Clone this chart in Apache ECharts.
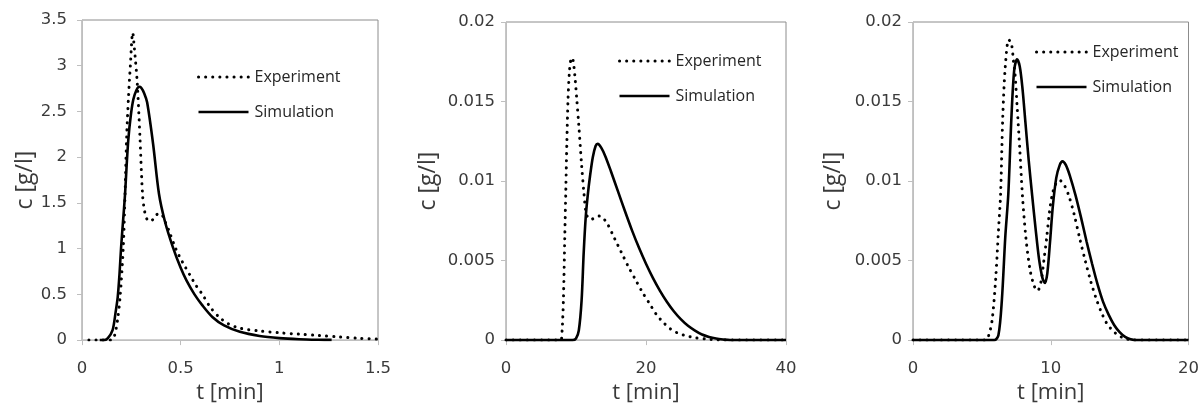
<!DOCTYPE html>
<html>
<head>
<meta charset="utf-8">
<script src="https://cdn.jsdelivr.net/npm/echarts@6/dist/echarts.min.js"></script>
<style>
  html, body { margin: 0; padding: 0; background: #ffffff; }
  #chart { width: 1202px; height: 409px; }
</style>
</head>
<body>
<div id="chart"></div>
<script>
// ---------- Panel 1: t in min, c in g/l ----------
const p1ExpT = [0.035, 0.1, 0.147, 0.165, 0.18, 0.193, 0.209, 0.218, 0.226, 0.235, 0.245, 0.257, 0.265, 0.28, 0.294, 0.307, 0.318, 0.33, 0.345, 0.365, 0.385, 0.40, 0.42, 0.44, 0.475, 0.51, 0.55, 0.58, 0.61, 0.65, 0.696, 0.74, 0.8, 0.9, 1.0, 1.1, 1.2, 1.3, 1.4, 1.5];
const p1ExpC = [0, 0, 0, 0.05, 0.22, 0.47, 1.01, 1.585, 2.2, 2.63, 3.0, 3.36, 3.2, 2.81, 2.2, 1.585, 1.4, 1.32, 1.3, 1.33, 1.38, 1.38, 1.3, 1.2, 1.0, 0.85, 0.7, 0.59, 0.5, 0.36, 0.25, 0.18, 0.13, 0.1, 0.08, 0.065, 0.05, 0.035, 0.02, 0.01];
const p1SimT = [0.09, 0.11, 0.13, 0.155, 0.17, 0.181, 0.19, 0.198, 0.208, 0.218, 0.226, 0.235, 0.247, 0.26, 0.275, 0.29, 0.3, 0.315, 0.33, 0.36, 0.39, 0.42, 0.46, 0.5, 0.53, 0.57, 0.61, 0.662, 0.72, 0.8, 0.9, 1.0, 1.1, 1.2, 1.265];
const p1SimC = [0, 0, 0.02, 0.11, 0.3, 0.47, 0.72, 1.01, 1.3, 1.59, 1.9, 2.2, 2.45, 2.63, 2.73, 2.77, 2.76, 2.7, 2.6, 2.15, 1.6, 1.3, 1.02, 0.79, 0.65, 0.5, 0.38, 0.25, 0.16, 0.09, 0.045, 0.022, 0.01, 0.004, 0.002];
const p1XTicks = [0, 0.5, 1, 1.5];
const p1YTicks = [0, 0.5, 1, 1.5, 2, 2.5, 3, 3.5];

// ---------- Panel 2 ----------
const p2ExpT = [0, 7.8, 8.0, 8.2, 8.4, 8.55, 8.7, 8.85, 9.05, 9.25, 9.47, 9.7, 9.9, 10.1, 10.4, 10.8, 11.14, 11.4, 11.7, 12.2, 12.7, 13.3, 13.8, 14.5, 15.5, 16.5, 17.5, 18.5, 19.5, 20.5, 21.5, 22.5, 23.5, 24.5, 25.5, 27, 28.5, 30, 31, 40];
const p2ExpC = [0, 0, 0.0005, 0.0025, 0.0065, 0.0095, 0.0125, 0.015, 0.0168, 0.0176, 0.01775, 0.0172, 0.0163, 0.0152, 0.0135, 0.011, 0.0092, 0.0081, 0.0077, 0.0076, 0.0077, 0.0078, 0.0077, 0.0073, 0.0064, 0.0055, 0.0046, 0.0038, 0.003, 0.0023, 0.0016, 0.0011, 0.0007, 0.00045, 0.0003, 0.00015, 0.00007, 0.00002, 0, 0];
const p2SimT = [0, 9.5, 10.0, 10.4, 10.8, 11.1, 11.4, 11.7, 12.0, 12.4, 12.8, 13.1, 13.6, 14.2, 15, 16, 17, 18, 19, 20, 21, 22, 23, 24, 25, 26, 27, 28, 29, 30, 31, 32, 40];
const p2SimC = [0, 0, 0.0001, 0.0006, 0.0025, 0.0055, 0.0078, 0.0092, 0.0103, 0.0115, 0.0122, 0.01234, 0.0121, 0.01155, 0.0106, 0.00935, 0.0081, 0.0069, 0.0058, 0.0048, 0.0039, 0.0031, 0.0024, 0.0018, 0.0013, 0.0009, 0.0006, 0.00035, 0.0002, 0.0001, 0.00004, 0, 0];
const p2XTicks = [0, 20, 40];
const p2YTicks = [0, 0.005, 0.01, 0.015, 0.02];

// ---------- Panel 3 ----------
const p3ExpT = [0, 5.25, 5.5, 5.75, 6.0, 6.2, 6.36, 6.52, 6.7, 6.95, 7.15, 7.3, 7.4, 7.55, 7.75, 7.95, 8.2, 8.5, 8.8, 9.05, 9.3, 9.5, 9.7, 9.9, 10.1, 10.35, 10.65, 10.95, 11.3, 11.7, 12.1, 12.5, 12.9, 13.3, 13.7, 14.1, 14.5, 14.9, 15.4, 16, 20];
const p3ExpC = [0, 0, 0.0003, 0.0013, 0.0038, 0.0068, 0.0092, 0.0141, 0.0172, 0.01889, 0.0186, 0.0175, 0.0168, 0.0148, 0.012, 0.009, 0.0064, 0.0044, 0.0034, 0.0031, 0.0037, 0.005, 0.0064, 0.008, 0.0091, 0.0098, 0.01004, 0.0098, 0.0091, 0.0079, 0.0064, 0.005, 0.0037, 0.0026, 0.0017, 0.001, 0.0006, 0.0003, 0.0001, 0, 0];
const p3SimT = [0, 5.9, 6.2, 6.45, 6.7, 6.92, 7.15, 7.35, 7.55, 7.75, 7.95, 8.15, 8.4, 8.65, 8.9, 9.15, 9.4, 9.58, 9.75, 9.95, 10.15, 10.4, 10.65, 10.85, 11.1, 11.4, 11.8, 12.2, 12.6, 13.0, 13.4, 13.8, 14.2, 14.6, 15.0, 15.4, 15.8, 16.2, 20];
const p3SimC = [0, 0, 0.0003, 0.0025, 0.0065, 0.0092, 0.0141, 0.017, 0.01765, 0.0172, 0.0158, 0.0138, 0.0113, 0.0091, 0.007, 0.0051, 0.0039, 0.0036, 0.0042, 0.0062, 0.0084, 0.0102, 0.011, 0.01124, 0.011, 0.0103, 0.0091, 0.0077, 0.0062, 0.0048, 0.0035, 0.0024, 0.0016, 0.00095, 0.0005, 0.0002, 0.00005, 0, 0];
const p3XTicks = [0, 10, 20];
const p3YTicks = [0, 0.005, 0.01, 0.015, 0.02];

const xTitle = 't [min]';
const yTitle = 'c [g/l]';
const seriesNames = ['Experiment', 'Simulation'];

// ---------- layout & styling ----------
const FONT = 'Open Sans';
const TICK_FONT = 'DejaVu Sans';
const axisGray = '#bfbfbf';
const textGray = '#3a3a3a';

const panels = [
  { grid: { left: 82, top: 20, width: 296, height: 323 }, xt: p1XTicks, yt: p1YTicks, yLabelMargin: 15, yNameGap: 42,
    exp: [p1ExpT, p1ExpC], sim: [p1SimT, p1SimC], legend: { left: 197, top: 67 } },
  { grid: { left: 506, top: 22, width: 280, height: 323 }, xt: p2XTicks, yt: p2YTicks, yLabelMargin: 11, yNameGap: 66,
    exp: [p2ExpT, p2ExpC], sim: [p2SimT, p2SimC], legend: { left: 618, top: 51 } },
  { grid: { left: 913, top: 22, width: 279, height: 323 }, xt: p3XTicks, yt: p3YTicks, yLabelMargin: 11, yNameGap: 68,
    exp: [p3ExpT, p3ExpC], sim: [p3SimT, p3SimC], legend: { left: 1035, top: 42 } }
];

const zip = (ts, cs) => ts.map((t, i) => [t, cs[i]]);

const expLine = { color: '#000', width: 3, type: [0.1, 7], cap: 'round' };
const simLine = { color: '#000', width: 2.6 };

function axisFromTicks(ticks) {
  return { min: ticks[0], max: ticks[ticks.length - 1], interval: ticks[1] - ticks[0] };
}

const option = {
  animation: false,
  backgroundColor: '#ffffff',
  textStyle: { fontFamily: FONT },
  grid: panels.map(p => Object.assign({ show: true, borderColor: '#8c8c8c', borderWidth: 1, backgroundColor: 'transparent' }, p.grid)),
  xAxis: panels.map((p, i) => Object.assign({
    type: 'value', gridIndex: i,
    name: xTitle, nameLocation: 'middle', nameGap: 41,
    nameTextStyle: { fontFamily: FONT, fontSize: 22, color: textGray },
    axisLine: { show: true, onZero: false, lineStyle: { color: axisGray, width: 1 } },
    axisTick: { show: true, inside: false, length: 5, lineStyle: { color: axisGray } },
    splitLine: { show: false },
    axisLabel: { fontFamily: TICK_FONT, fontSize: 16.5, color: textGray, margin: 20, showMaxLabel: true, showMinLabel: true }
  }, axisFromTicks(p.xt))),
  yAxis: panels.map((p, i) => Object.assign({
    type: 'value', gridIndex: i,
    name: yTitle, nameLocation: 'middle', nameGap: p.yNameGap,
    nameTextStyle: { fontFamily: FONT, fontSize: 23, color: textGray },
    axisLine: { show: true, lineStyle: { color: axisGray, width: 1 } },
    axisTick: { show: true, inside: false, length: 5, lineStyle: { color: axisGray } },
    splitLine: { show: false },
    axisLabel: { fontFamily: TICK_FONT, fontSize: 16.5, color: textGray, margin: p.yLabelMargin }
  }, axisFromTicks(p.yt))),
  legend: panels.map(p => ({
    orient: 'vertical', left: p.legend.left, top: p.legend.top, padding: 0,
    itemWidth: 50, itemHeight: 20, itemGap: 15,
    itemStyle: { opacity: 0 },
    textStyle: { fontFamily: FONT, fontSize: 16, color: '#262626', lineHeight: 20, padding: [0, 0, 0, 1] },
    data: [
      { name: seriesNames[0], lineStyle: { width: 3 } },
      { name: seriesNames[1], lineStyle: { width: 2.6 } }
    ]
  })),
  series: panels.flatMap((p, i) => [
    { type: 'line', name: seriesNames[0], xAxisIndex: i, yAxisIndex: i, data: zip(p.exp[0], p.exp[1]),
      symbol: 'none', smooth: 0.3, lineStyle: expLine, itemStyle: { color: '#000' }, z: 3 },
    { type: 'line', name: seriesNames[1], xAxisIndex: i, yAxisIndex: i, data: zip(p.sim[0], p.sim[1]),
      symbol: 'none', smooth: 0.3, lineStyle: simLine, itemStyle: { color: '#000' }, z: 2 }
  ])
};

const chart = echarts.init(document.getElementById('chart'), null, { renderer: 'canvas' });
chart.setOption(option);
</script>
</body>
</html>
